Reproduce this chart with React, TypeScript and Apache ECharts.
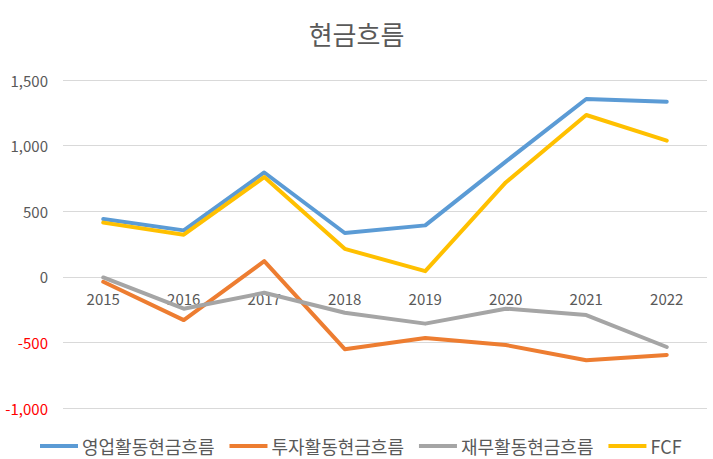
import React, { useEffect, useRef } from "react";
import * as echarts from "echarts";

const years = ["2015", "2016", "2017", "2018", "2019", "2020", "2021", "2022"];
const operatingCF = [441, 354, 795, 334, 392, 878, 1355, 1334];
const investingCF = [-38, -330, 119, -552, -466, -520, -636, -596];
const financingCF = [-5, -243, -122, -274, -357, -243, -292, -535];
const fcf = [413, 321, 760, 213, 43, 719, 1233, 1038];
const seriesNames = ["영업활동현금흐름", "투자활동현금흐름", "재무활동현금흐름", "FCF"];
const colors = ["#5B9BD5", "#ED7D31", "#A5A5A5", "#FFC000"];

const FONT = "'Noto Sans CJK KR', 'Noto Sans', sans-serif";

export default function App() {
  const ref = useRef<HTMLDivElement>(null);
  useEffect(() => {
    document.body.style.margin = "0";
    const chart = echarts.init(ref.current!, null, { renderer: "svg" });
    const data = [operatingCF, investingCF, financingCF, fcf];
    chart.setOption({
      animation: false,
      backgroundColor: "#ffffff",
      textStyle: { fontFamily: FONT },
      title: {
        text: "현금흐름",
        left: "center",
        top: 15,
        textStyle: { fontSize: 26, fontWeight: "normal", color: "#595959", fontFamily: FONT },
      },
      color: colors,
      legend: {
        left: 35,
        top: 432,
        itemWidth: 38,
        itemHeight: 4,
        itemGap: 15,
        icon: "rect",
        textStyle: { fontSize: 18, color: "#595959", fontFamily: FONT, padding: [0, 0, 0, -1] },
        data: seriesNames,
      },
      grid: { left: 63, right: 6, top: 80, bottom: 51, containLabel: false },
      xAxis: {
        type: "category",
        data: years,
        boundaryGap: true,
        axisLine: { show: false },
        axisTick: { show: false },
        axisLabel: {
          fontSize: 15,
          color: "#595959",
          margin: -110,
          verticalAlign: "middle",
          fontFamily: FONT,
        },
        splitLine: { show: false },
      },
      yAxis: {
        type: "value",
        min: -1000,
        max: 1500,
        interval: 500,
        axisLine: { show: false },
        axisTick: { show: false },
        axisLabel: {
          fontSize: 15,
          margin: 15,
          fontFamily: FONT,
          formatter: (v: number) => v.toLocaleString("en-US"),
          color: (v: any) => (Number(v) < 0 ? "#FF0000" : "#595959"),
        },
        splitLine: { lineStyle: { color: "#D9D9D9", width: 1 } },
      },
      series: seriesNames.map((name, i) => ({
        name,
        type: "line",
        data: data[i],
        symbol: "none",
        lineStyle: { width: 4, color: colors[i], cap: "round", join: "round" },
        itemStyle: { color: colors[i] },
        z: 3,
      })),
    });
    return () => chart.dispose();
  }, []);
  return <div ref={ref} style={{ width: 713, height: 459 }} />;
}
